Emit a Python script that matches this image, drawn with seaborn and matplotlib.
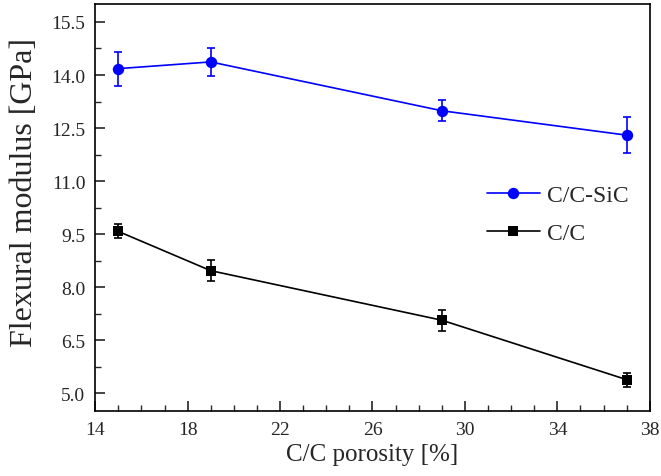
import numpy as np
import pandas as pd
import matplotlib
matplotlib.use('Agg')
import seaborn as sns
import matplotlib.pyplot as plt
from matplotlib.ticker import MultipleLocator

# data
porosity = [15, 19, 29, 37]
sic_modulus = [14.18, 14.37, 12.99, 12.30]
sic_err = [0.48, 0.40, 0.30, 0.50]
cc_modulus = [9.58, 8.47, 7.07, 5.39]
cc_err = [0.20, 0.30, 0.30, 0.20]

sns.set_style('ticks')
plt.rcParams['font.family'] = ['Liberation Serif', 'DejaVu Serif']

df = pd.DataFrame({
    'porosity': porosity * 2,
    'modulus': sic_modulus + cc_modulus,
    'err': sic_err + cc_err,
    'material': ['C/C-SiC'] * 4 + ['C/C'] * 4,
})

colors = {'C/C-SiC': '#0000ff', 'C/C': '#000000'}
markers = {'C/C-SiC': 'o', 'C/C': 's'}
msize = {'o': 8.2, 's': 7.0}

fig = plt.figure(figsize=(6.61, 4.77), dpi=100)
ax = fig.add_axes([0.144, 0.136, 0.839, 0.853])

sns.lineplot(data=df, x='porosity', y='modulus', hue='material', style='material',
             palette=colors, markers=markers, dashes=False, markersize=8,
             markeredgewidth=0, linewidth=1.2, ax=ax)

for ln in ax.get_lines():
    if ln.get_marker() in msize:
        ln.set_markersize(msize[ln.get_marker()])

for name, grp in df.groupby('material'):
    ax.errorbar(grp['porosity'], grp['modulus'], yerr=grp['err'], fmt='none',
                ecolor=colors[name], elinewidth=1.2, capsize=2.8, capthick=1.2)

ax.set_xlim(14, 38)
ax.set_ylim(4.5, 16.0)
ax.xaxis.set_major_locator(MultipleLocator(4, offset=2))
ax.xaxis.set_minor_locator(MultipleLocator(1))
ax.yaxis.set_major_locator(MultipleLocator(1.5, offset=0.5))
ax.yaxis.set_minor_locator(MultipleLocator(0.75, offset=0.5))
ax.yaxis.set_major_formatter(plt.FormatStrFormatter('%.1f'))
ax.tick_params(which='major', direction='in', length=7, width=1.2, labelsize=14, pad=7)
ax.tick_params(which='minor', direction='in', length=4, width=1.0)
ax.tick_params(top=False, right=False, which='both')
for s in ax.spines.values():
    s.set_linewidth(1.2)
    s.set_color('black')

ax.set_xlabel('C/C porosity [%]', fontsize=18, labelpad=4)
ax.set_ylabel('Flexural modulus [GPa]', fontsize=23)
ax.yaxis.set_label_coords(-0.101, 0.54)

handles, labels = ax.get_legend_handles_labels()
for h in handles:
    if h.get_marker() in msize:
        h.set_markersize(msize[h.get_marker()])
ax.legend(handles, labels, loc='center left', bbox_to_anchor=(0.706, 0.484), frameon=False,
          fontsize=17, handlelength=2.25, handletextpad=0.3, labelspacing=0.7,
          borderaxespad=0, borderpad=0)

fig.savefig('out.png', dpi=100)
